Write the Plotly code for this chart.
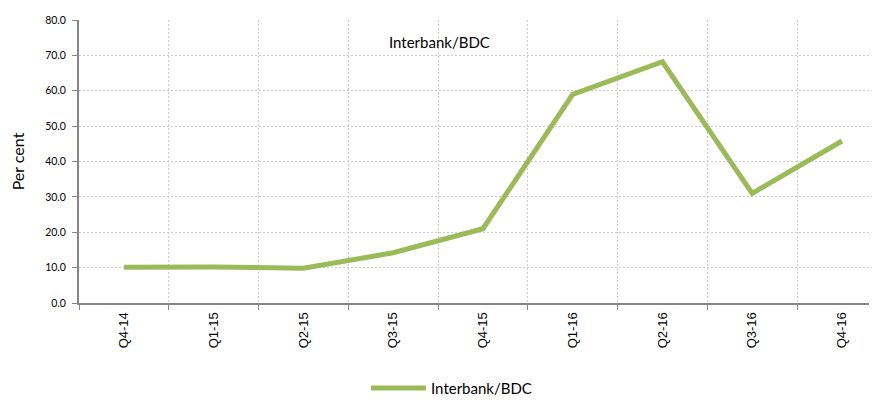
import plotly.graph_objects as go

quarters = ["Q4-14", "Q1-15", "Q2-15", "Q3-15", "Q4-15", "Q1-16", "Q2-16", "Q3-16", "Q4-16"]
interbank_bdc = [10.1, 10.2, 9.8, 14.2, 21.0, 59.0, 68.2, 31.0, 45.8]

fig = go.Figure()

fig.add_trace(
    go.Scatter(
        x=quarters,
        y=interbank_bdc,
        mode="lines",
        name="Interbank/BDC",
        line=dict(color="#9BBB59", width=5),
    )
)

# page has an 8px body margin, so the figure is sized to fit the window
fig.update_layout(
    width=869,
    height=392,
    margin=dict(l=71, r=0, t=12, b=97),
    plot_bgcolor="white",
    paper_bgcolor="white",
    font=dict(family="Lato, Open Sans, sans-serif", color="#000000"),
    showlegend=True,
    legend=dict(
        orientation="h",
        xref="container",
        yref="container",
        x=0.412,
        xanchor="left",
        y=0.03,
        yanchor="middle",
        itemwidth=55,
        font=dict(size=15, family="Lato, Open Sans, sans-serif"),
    ),
)

fig.update_xaxes(
    type="category",
    range=[-0.5, 8.39],
    tickson="boundaries",
    ticks="outside",
    ticklen=5,
    tickcolor="#868686",
    tickangle=-90,
    tickfont=dict(family="Liberation Sans, Arial, sans-serif", size=13),
    ticklabelstandoff=2,
    showline=True,
    linecolor="#868686",
    linewidth=2,
    showgrid=True,
    gridcolor="#CCCCCC",
    griddash="2px,2px",
    gridwidth=1,
    automargin=False,
)

fig.update_yaxes(
    range=[0, 80],
    dtick=10,
    tickformat=".1f",
    ticks="outside",
    ticklen=5,
    tickcolor="#868686",
    tickfont=dict(size=10.5),
    ticklabelstandoff=4,
    showline=True,
    linecolor="#868686",
    linewidth=2,
    showgrid=True,
    gridcolor="#CCCCCC",
    griddash="2px,2px",
    gridwidth=1,
    zeroline=False,
    automargin=False,
    title=dict(text="Per cent", font=dict(size=16), standoff=20),
)

# Chart title sits inside the plot area
fig.add_annotation(
    text="Interbank/BDC",
    xref="paper",
    yref="paper",
    x=0.452,
    y=0.961,
    showarrow=False,
    font=dict(size=15),
)

fig.write_html("out.html")
